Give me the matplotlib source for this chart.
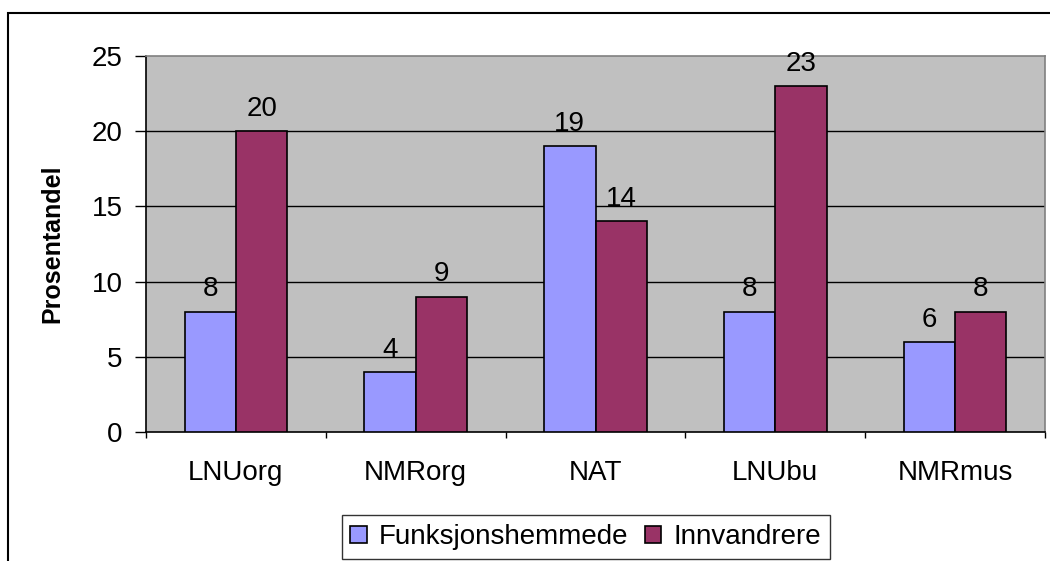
import matplotlib.pyplot as plt
import numpy as np
from matplotlib.patches import Rectangle

categories = ['LNUorg', 'NMRorg', 'NAT', 'LNUbu', 'NMRmus']
funksjonshemmede = [8, 4, 19, 8, 6]
innvandrere = [20, 9, 14, 23, 8]
y_ticks = [0, 5, 10, 15, 20, 25]


def main():
    plt.rcParams['font.family'] = ['Liberation Sans', 'DejaVu Sans']

    fig = plt.figure(figsize=(10.5, 5.61), dpi=100)
    ax = fig.add_axes([146 / 1050, 1 - 432 / 561, (1045 - 146) / 1050, (432 - 56) / 561])

    # outer chart frame, cut off at the right and bottom edge
    fig.patches.append(Rectangle((8 / 1050, -0.1), 1.2, 1 - 13 / 561 + 0.1,
                                 transform=fig.transFigure, fill=False,
                                 edgecolor='black', linewidth=1.5))

    ax.set_facecolor('#C0C0C0')
    x = np.arange(len(categories)) + 0.5
    w = 1 / 3.5
    b1 = ax.bar(x - w / 2, funksjonshemmede, w, color='#9999FF', edgecolor='black',
                linewidth=1.2, label='Funksjonshemmede', zorder=3)
    b2 = ax.bar(x + w / 2, innvandrere, w, color='#993366', edgecolor='black',
                linewidth=1.2, label='Innvandrere', zorder=3)

    for bars, vals in ((b1, funksjonshemmede), (b2, innvandrere)):
        for rect, v in zip(bars, vals):
            ax.annotate(str(v), (rect.get_x() + rect.get_width() / 2, v),
                        xytext=(0, 16), textcoords='offset points',
                        ha='center', va='center', fontsize=20)

    ax.set_xlim(0, len(categories))
    ax.set_ylim(0, 25)
    ax.set_yticks(y_ticks)
    ax.set_yticklabels([str(t) for t in y_ticks], fontsize=20)
    for t in y_ticks[1:-1]:
        ax.axhline(t, color='black', linewidth=1, zorder=1)

    ax.set_xticks(np.arange(len(categories) + 1))
    ax.set_xticklabels([])
    ax.set_xticks(x, minor=True)
    ax.set_xticklabels(categories, minor=True, fontsize=20)
    ax.tick_params(axis='x', which='major', direction='out', length=4.5, width=1)
    ax.tick_params(axis='x', which='minor', length=0, pad=20)
    ax.tick_params(axis='y', direction='out', length=8, width=1, pad=9)

    ax.spines['left'].set_color('black')
    ax.spines['bottom'].set_color('black')
    ax.spines['top'].set_color('#808080')
    ax.spines['right'].set_color('#808080')
    for s in ax.spines.values():
        s.set_linewidth(1.2)

    ax.set_ylabel('Prosentandel', fontsize=18, fontweight='bold')
    ax.yaxis.set_label_coords(-82 / 899, 0.5)

    leg = fig.legend(loc='center', bbox_to_anchor=(586 / 1050, 1 - 537 / 561),
                     ncol=2, fontsize=20, frameon=True, fancybox=False,
                     handlelength=0.58, handleheight=0.58, handletextpad=0.45,
                     columnspacing=0.6, borderpad=0.32, borderaxespad=0)
    leg.get_frame().set_edgecolor('black')
    leg.get_frame().set_linewidth(1)

    fig.savefig('out.png', dpi=100)


if __name__ == '__main__':
    main()
